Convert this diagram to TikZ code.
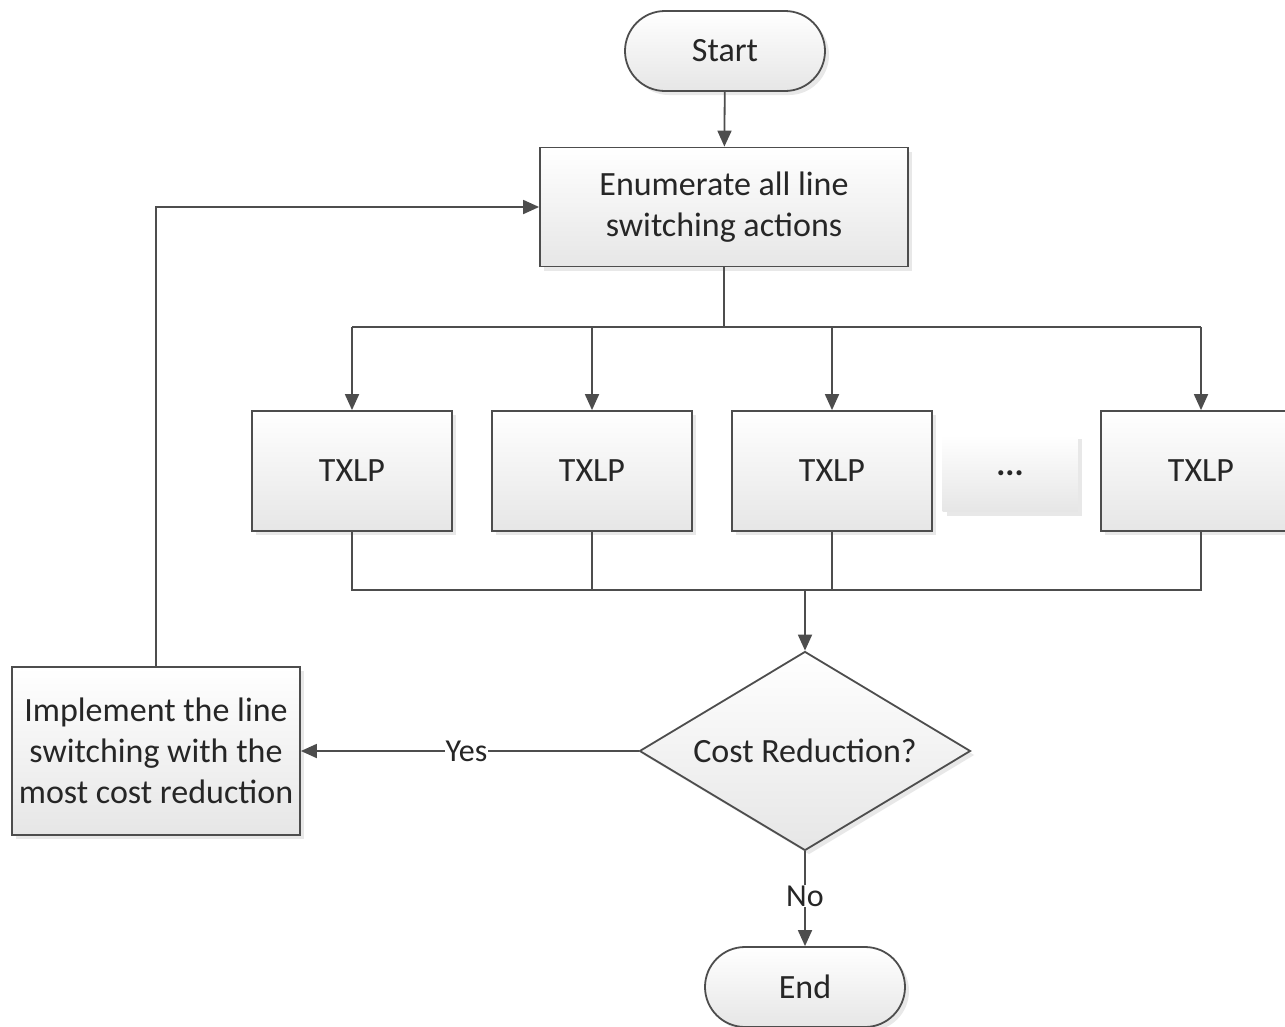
\documentclass[tikz,border=0pt]{standalone}
\usepackage{fontspec}
\setmainfont{Carlito}
\usetikzlibrary{arrows.meta,shapes.geometric,shadows}
\definecolor{ln}{HTML}{4D4D4D}
\definecolor{tx}{HTML}{262626}
\definecolor{lowg}{HTML}{E6E6E6}
\begin{document}
\begin{tikzpicture}[x=1pt,y=-1pt,
  base/.style={draw=ln, line width=1.8pt, top color=white, bottom color=lowg,
     text=tx, font=\fontsize{34}{41}\selectfont, align=center, inner sep=0pt,
     drop shadow={opacity=0.18, shadow xshift=4pt, shadow yshift=-4pt}},
  procbox/.style={base, rectangle, minimum width=#1},
  term/.style={base, rectangle, rounded corners=40pt, minimum width=200pt, minimum height=80pt},
  dec/.style={base, diamond, minimum width=331pt, minimum height=199pt, aspect=1.66},
  conn/.style={draw=ln, line width=1.8pt},
  arr/.style={conn, -{Triangle[length=16pt,width=14pt]}},
  lbl/.style={fill=white, text=tx, font=\fontsize{32}{38}\selectfont, inner sep=1pt}
]
\useasboundingbox (0,0) rectangle (1285,1026);
\fill[white] (0,0) rectangle (1285,1026);

\node[term] (start) at (725,51) {Start};
\node[procbox=368pt, minimum height=119pt] (enum) at (724,207) {Enumerate all line\\switching actions};

\node[procbox=200pt, minimum height=120pt] (t1) at (352,471) {TXLP};
\node[procbox=200pt, minimum height=120pt] (t2) at (592,471) {TXLP};
\node[procbox=200pt, minimum height=120pt] (t3) at (832,471) {TXLP};
\node[base, draw=none, rectangle, minimum width=135pt, minimum height=77pt] (dots) at (1010,473) {\textbf{...}};
\node[procbox=200pt, minimum height=120pt] (t4) at (1201,471) {TXLP};

\node[dec] (cost) at (805,751) {Cost Reduction?};
\node[procbox=288pt, minimum height=168pt] (impl) at (156,751) {Implement the line\\switching with the\\most cost reduction};
\node[term] (end) at (805,987) {End};

\coordinate (split) at (724,327);
\coordinate (join) at (805,590);

\draw[arr] (start) -- (enum);
\draw[conn] (enum.south) -- (split);
\draw[conn] (split -| t1) -- (split -| t4);
\draw[arr] (split -| t1) -- (t1.north);
\draw[arr] (split -| t2) -- (t2.north);
\draw[arr] (split -| t3) -- (t3.north);
\draw[arr] (split -| t4) -- (t4.north);

\draw[conn] (t1.south) -- (join -| t1) -- (join -| t4) -- (t4.south);
\draw[conn] (t2.south) -- (join -| t2);
\draw[conn] (t3.south) -- (join -| t3);
\draw[arr] (join) -- (cost.north);

\draw[arr] (cost.west) -- node[lbl, pos=0.51] {Yes} (impl.east);
\draw[arr] (cost.south) -- node[lbl, pos=0.47] {No} (end.north);
\draw[arr] (impl.north) |- (enum.west);
\end{tikzpicture}
\end{document}
